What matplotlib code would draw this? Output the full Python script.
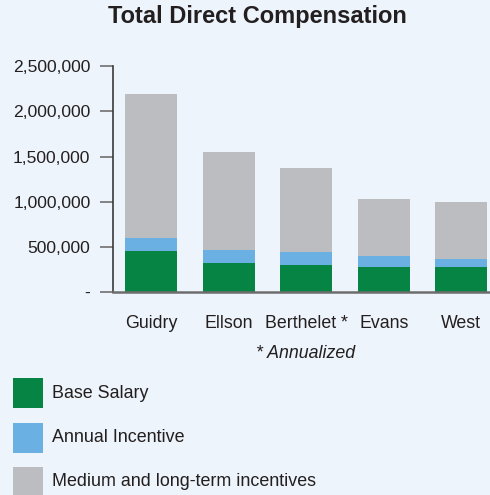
import matplotlib
matplotlib.use("Agg")
import matplotlib.pyplot as plt
from matplotlib.patches import Rectangle
from matplotlib.ticker import FuncFormatter

categories = ["Guidry", "Ellson", "Berthelet *", "Evans", "West"]
base_salary = [457000, 324000, 302000, 280000, 280000]
annual_incentive = [143000, 144000, 144000, 121000, 88000]
long_term = [1593000, 1084000, 929000, 631000, 631000]
series_labels = ["Base Salary", "Annual Incentive", "Medium and long-term incentives"]
yticks = [0, 500000, 1000000, 1500000, 2000000, 2500000]

bg = "#EDF4FB"
colors = ["#068443", "#6AB0E3", "#BCBDC0"]
txt = "#231F20"

plt.rcParams['font.family'] = ['Liberation Sans', 'DejaVu Sans']

fig = plt.figure(figsize=(4.9, 4.95), dpi=100, facecolor=bg)
ax = fig.add_axes([0.230, 0.4095, 0.770, 0.4572], facecolor=bg)

x = list(range(len(categories)))
w = 0.67
ax.bar(x, base_salary, w, color=colors[0], linewidth=0)
ax.bar(x, annual_incentive, w, bottom=base_salary, color=colors[1], linewidth=0)
bot2 = [a + b for a, b in zip(base_salary, annual_incentive)]
ax.bar(x, long_term, w, bottom=bot2, color=colors[2], linewidth=0)

ax.set_xlim(-0.494, 4.37)
ax.set_ylim(0, 2500000)
ax.set_yticks(yticks)
ax.yaxis.set_major_formatter(FuncFormatter(lambda v, p: "-" if v == 0 else f"{int(v):,}"))
ax.tick_params(axis='y', length=9.5, width=1.3, color="#7a7a7a", pad=6.5,
               labelsize=12.6, labelcolor=txt)
ax.set_xticks(x)
ax.set_xticklabels(categories)
ax.tick_params(axis='x', length=0, pad=16, labelsize=12.8, labelcolor=txt)

for s in ["top", "right"]:
    ax.spines[s].set_visible(False)
ax.spines["left"].set_color("#3a3a3a")
ax.spines["left"].set_linewidth(1.2)
ax.spines["bottom"].set_color("#6d6d6d")
ax.spines["bottom"].set_linewidth(1.8)

fig.text(257 / 490, 1 - 17 / 495, "Total Direct Compensation", ha="center", va="center",
         fontsize=17, fontweight="bold", color=txt)
fig.text(306 / 490, 1 - 353 / 495, "* Annualized", ha="center", va="center",
         fontsize=12.8, style="italic", color=txt)

ys = [393, 438, 482]
for lab, c, yc in zip(series_labels, colors, ys):
    fig.add_artist(Rectangle((13 / 490, 1 - (yc + 15) / 495), 30 / 490, 30 / 495,
                             transform=fig.transFigure, facecolor=c, edgecolor="none"))
    fig.text(52 / 490, 1 - yc / 495, lab, ha="left", va="center", fontsize=12.9, color=txt)

fig.savefig("out.png", dpi=100, facecolor=bg)
